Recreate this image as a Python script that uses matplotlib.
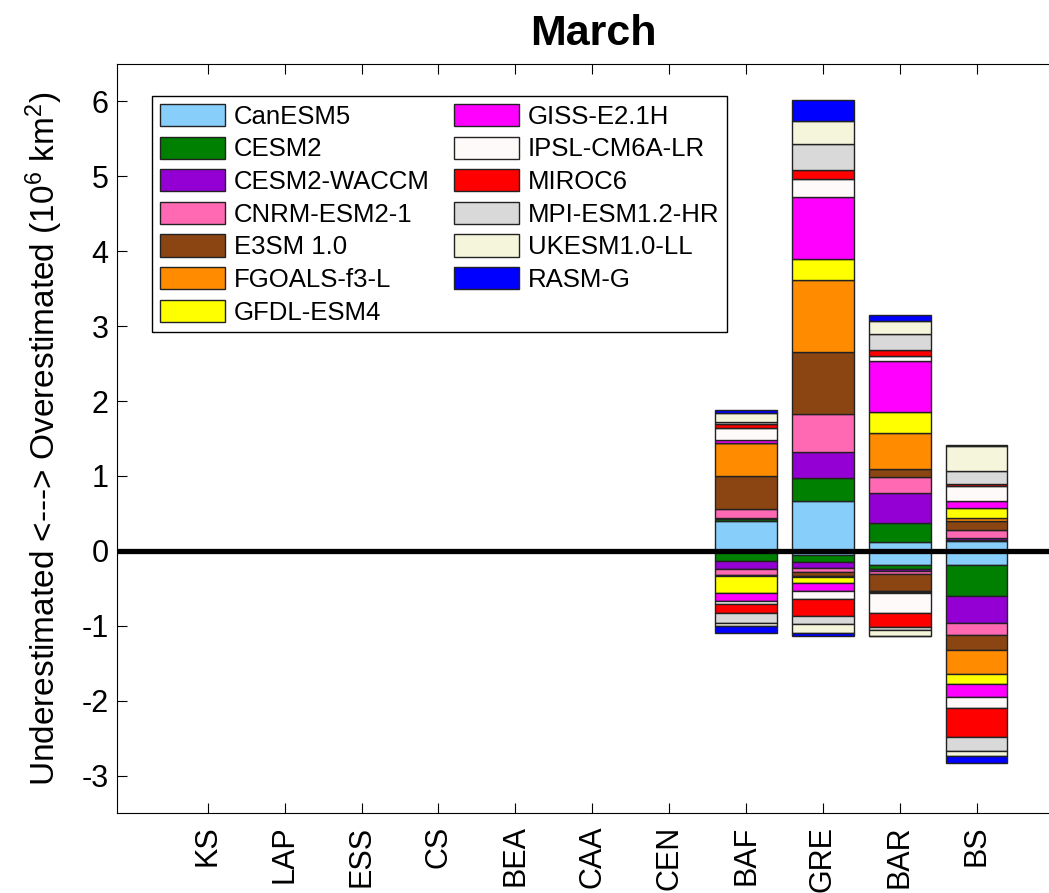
import numpy as np
import matplotlib
matplotlib.use('Agg')
import matplotlib.pyplot as plt

plt.rcParams['font.family'] = ['Liberation Sans', 'DejaVu Sans']
plt.rcParams['mathtext.default'] = 'regular'
plt.rcParams['axes.unicode_minus'] = False

regions = ['KS', 'LAP', 'ESS', 'CS', 'BEA', 'CAA', 'CEN', 'BAF', 'GRE', 'BAR', 'BS']
models = ['CanESM5', 'CESM2', 'CESM2-WACCM', 'CNRM-ESM2-1', 'E3SM 1.0', 'FGOALS-f3-L',
          'GFDL-ESM4', 'GISS-E2.1H', 'IPSL-CM6A-LR', 'MIROC6', 'MPI-ESM1.2-HR',
          'UKESM1.0-LL', 'RASM-G']
colors = ['#87CEFA', '#008000', '#9400D3', '#FF69B4', '#8B4513', '#FF8C00', '#FFFF00',
          '#FF00FF', '#FFFAFA', '#FF0000', '#D9D9D9', '#F5F5DC', '#0000FF']

# over / under estimation per model (10^6 km^2), regions with no bars are zero
baf_over = [0.40, 0.02, 0.02, 0.115, 0.444, 0.447, 0.0, 0.04, 0.16, 0.053, 0.027, 0.12, 0.032]
baf_under = [0.0, -0.129, -0.114, -0.08, -0.013, 0.0, -0.231, -0.109, -0.036, -0.12, -0.137, -0.04, -0.085]
gre_over = [0.665, 0.313, 0.346, 0.506, 0.831, 0.951, 0.286, 0.825, 0.24, 0.12, 0.353, 0.306, 0.273]
gre_under = [-0.05, -0.105, -0.072, -0.053, -0.053, -0.01, -0.08, -0.113, -0.11, -0.222, -0.11, -0.118, -0.04]
bar_over = [0.12, 0.253, 0.396, 0.212, 0.108, 0.484, 0.287, 0.67, 0.067, 0.08, 0.221, 0.173, 0.076]
bar_under = [-0.184, -0.059, -0.031, -0.037, -0.222, -0.012, -0.012, -0.012, -0.261, -0.186, -0.04, -0.075, -0.008]
bs_over = [0.129, 0.01, 0.027, 0.113, 0.12, 0.036, 0.133, 0.097, 0.196, 0.032, 0.172, 0.333, 0.013]
bs_under = [-0.189, -0.42, -0.351, -0.166, -0.197, -0.322, -0.13, -0.177, -0.146, -0.386, -0.185, -0.067, -0.09]

over = np.zeros((len(models), len(regions)))
under = np.zeros((len(models), len(regions)))
for j, (o, u) in zip(range(7, 11), [(baf_over, baf_under), (gre_over, gre_under),
                                    (bar_over, bar_under), (bs_over, bs_under)]):
    over[:, j] = o
    under[:, j] = u

x = np.arange(1, len(regions) + 1)

fig = plt.figure(figsize=(10.49, 8.93), dpi=100)
ax = fig.add_axes([117 / 1049, 80 / 893, (1069 - 117) / 1049, (813 - 64) / 893])

pos_bottom = np.zeros(len(regions))
neg_bottom = np.zeros(len(regions))
for i, m in enumerate(models):
    ax.bar(x, over[i], bottom=pos_bottom, width=0.8, color=colors[i],
           edgecolor='#222222', linewidth=1, label=m)
    ax.bar(x, under[i], bottom=neg_bottom, width=0.8, color=colors[i],
           edgecolor='#222222', linewidth=1)
    pos_bottom += over[i]
    neg_bottom += under[i]

ax.axhline(0, color='k', lw=3.8, zorder=5)

ax.set_xlim(-0.18, 12.2)
ax.set_ylim(-3.5, 6.5)
ax.set_xticks(x)
ax.set_xticklabels(regions, rotation=90)
ax.set_yticks(np.arange(-3, 7))
ax.tick_params(direction='in', length=7, top=True, right=True, labelsize=22)
ax.tick_params(axis='x', pad=9)
ax.tick_params(axis='y', pad=6)

ax.set_ylabel('Underestimated <---> Overestimated (10$^6$ km$^2$)', fontsize=24)
ax.yaxis.set_label_coords(-0.055, 0.5)
ax.set_title('March', fontsize=31, fontweight='bold', pad=14)

leg = ax.legend(ncol=2, fontsize=18.5, loc='upper left', bbox_to_anchor=(0.0368, 0.957),
                borderaxespad=0, handlelength=2.53, handleheight=0.95, labelspacing=0.3,
                handletextpad=0.35, columnspacing=0.93, borderpad=0.3,
                fancybox=False, framealpha=1, edgecolor='black')
leg.get_frame().set_linewidth(1)

fig.savefig('out.png', dpi=100)
